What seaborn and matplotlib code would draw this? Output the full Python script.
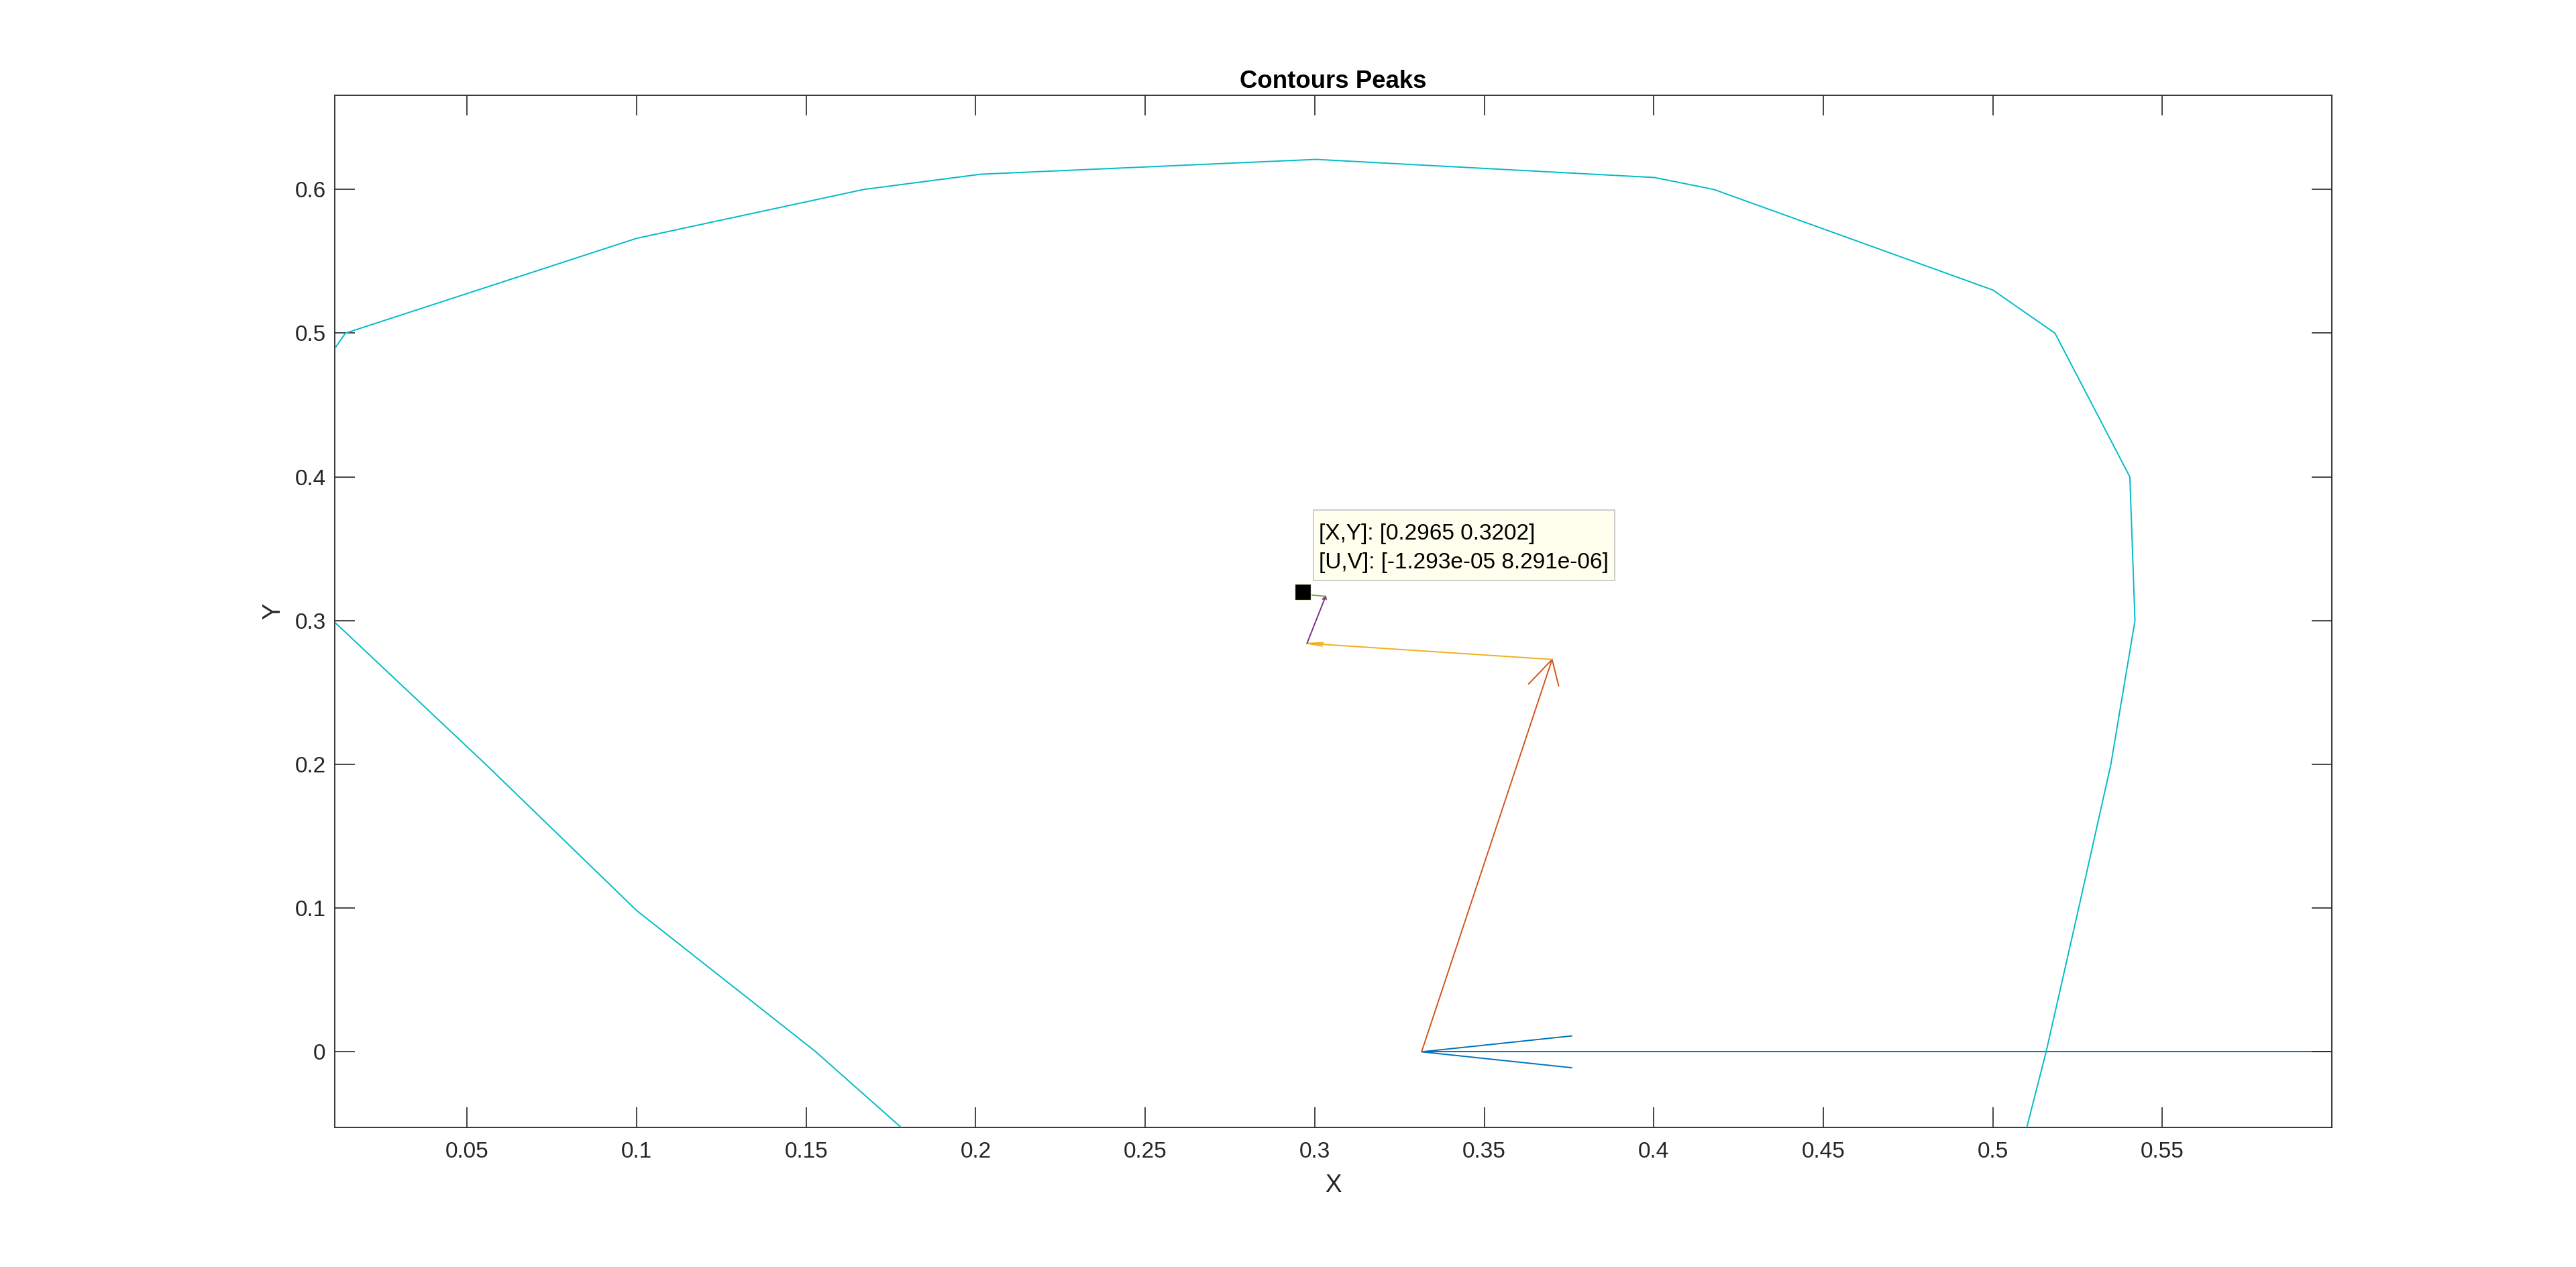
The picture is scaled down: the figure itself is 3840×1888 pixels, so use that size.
import pandas as pd
import seaborn as sns
from matplotlib import pyplot as plt
from matplotlib.patches import Rectangle

# contour level
upper_x = [0.011, 0.0141, 0.1, 0.167, 0.2015, 0.3004, 0.4002, 0.4177, 0.5, 0.5183, 0.5404, 0.5419, 0.5348, 0.5253, 0.5157, 0.51]
upper_y = [0.4895, 0.5, 0.566, 0.6, 0.6106, 0.6209, 0.6083, 0.6, 0.53, 0.5, 0.4, 0.3, 0.2, 0.1, 0.0, -0.0526]
lower_x = [0.011, 0.0555, 0.1, 0.1526, 0.178]
lower_y = [0.2988, 0.2, 0.0983, 0.0005, -0.0526]

# descent path, each arrow goes from one point to the next
path_x = [0.6, 0.3315, 0.37, 0.2977, 0.3032, 0.2965]
path_y = [0.0, 0.0, 0.273, 0.2842, 0.3169, 0.3184]
path_colors = ['#0072BD', '#D95319', '#EDB120', '#7E2F8E', '#77AC30']
head_alpha = [0.165, 0.065, 0.065, 0.065, 0.065]
head_beta = 0.25

# point the data tip sits on
tip_x = 0.2965
tip_y = 0.3202
tip_lines = ['[X,Y]: [0.2965 0.3202]', '[U,V]: [-1.293e-05 8.291e-06]']

x_ticks = [0.05, 0.1, 0.15, 0.2, 0.25, 0.3, 0.35, 0.4, 0.45, 0.5, 0.55]
x_labels = ['0.05', '0.1', '0.15', '0.2', '0.25', '0.3', '0.35', '0.4', '0.45', '0.5', '0.55']
y_ticks = [0, 0.1, 0.2, 0.3, 0.4, 0.5, 0.6]
y_labels = ['0', '0.1', '0.2', '0.3', '0.4', '0.5', '0.6']

W, H = 3840, 1888
DPI = 200
DARK = '#262626'

sns.set_theme(style='ticks')
plt.rcParams['font.family'] = ['Liberation Sans', 'DejaVu Sans']
plt.rcParams['axes.linewidth'] = 0.65

fig = plt.figure(figsize=(W / DPI, H / DPI), dpi=DPI)
ax = fig.add_axes([499.5 / W, 1 - 1680 / H, (3475.7 - 499.5) / W, (1680 - 142) / H])


def line(xs, ys, color, z=2):
    sns.lineplot(x=xs, y=ys, sort=False, estimator=None, color=color,
                 linewidth=0.7, ax=ax, legend=False, zorder=z)


for i, c in enumerate(path_colors):
    x0, y0, x1, y1 = path_x[i], path_y[i], path_x[i + 1], path_y[i + 1]
    u, v = x1 - x0, y1 - y0
    a = head_alpha[i]
    line([x0, x1], [y0, y1], c)
    # open arrow head, same shape as quiver in matlab
    line([x1 - a * (u + head_beta * v), x1, x1 - a * (u - head_beta * v)],
         [y1 - a * (v - head_beta * u), y1, y1 - a * (v + head_beta * u)], c)

line(upper_x, upper_y, '#00BCC8', 3)
line(lower_x, lower_y, '#00BCC8', 3)

ax.plot(tip_x, tip_y, 's', color='black', ms=8.6, mec='#F4F4C8', mew=0.45, zorder=6)

ax.set_xlim(0.01106, 0.5999)
ax.set_ylim(-0.0526, 0.6655)
ax.set_xticks(x_ticks, x_labels)
ax.set_yticks(y_ticks, y_labels)
ax.set_axisbelow(False)
ax.tick_params(direction='in', length=10.8, width=0.6, color=DARK, labelcolor=DARK,
               labelsize=12, top=True, right=True)
ax.tick_params(axis='x', pad=7.5)
ax.tick_params(axis='y', pad=5)
for s in ax.spines.values():
    s.set_color(DARK)
    s.set_visible(True)

ax.set_xlabel('X', fontsize=13.2, color=DARK, labelpad=6)
ax.set_ylabel('Y', fontsize=13.2, color=DARK, labelpad=5)
ax.set_title('Contours Peaks', fontsize=13.2, fontweight='bold', color='black', pad=4)

# data tip box
fig.add_artist(Rectangle((1957.7 / W, 1 - 865 / H), (2406.7 - 1957.7) / W, (865 - 760) / H,
                         transform=fig.transFigure, facecolor='#FFFFEE', edgecolor='#CCCCCC',
                         linewidth=0.7, zorder=7))
fig.text(1966 / W, 1 - 804 / H, tip_lines[0], fontsize=12, color='black', va='baseline', zorder=8)
fig.text(1966 / W, 1 - 847 / H, tip_lines[1], fontsize=12, color='black', va='baseline', zorder=8)

fig.savefig('out.png', dpi=DPI, facecolor='white')
